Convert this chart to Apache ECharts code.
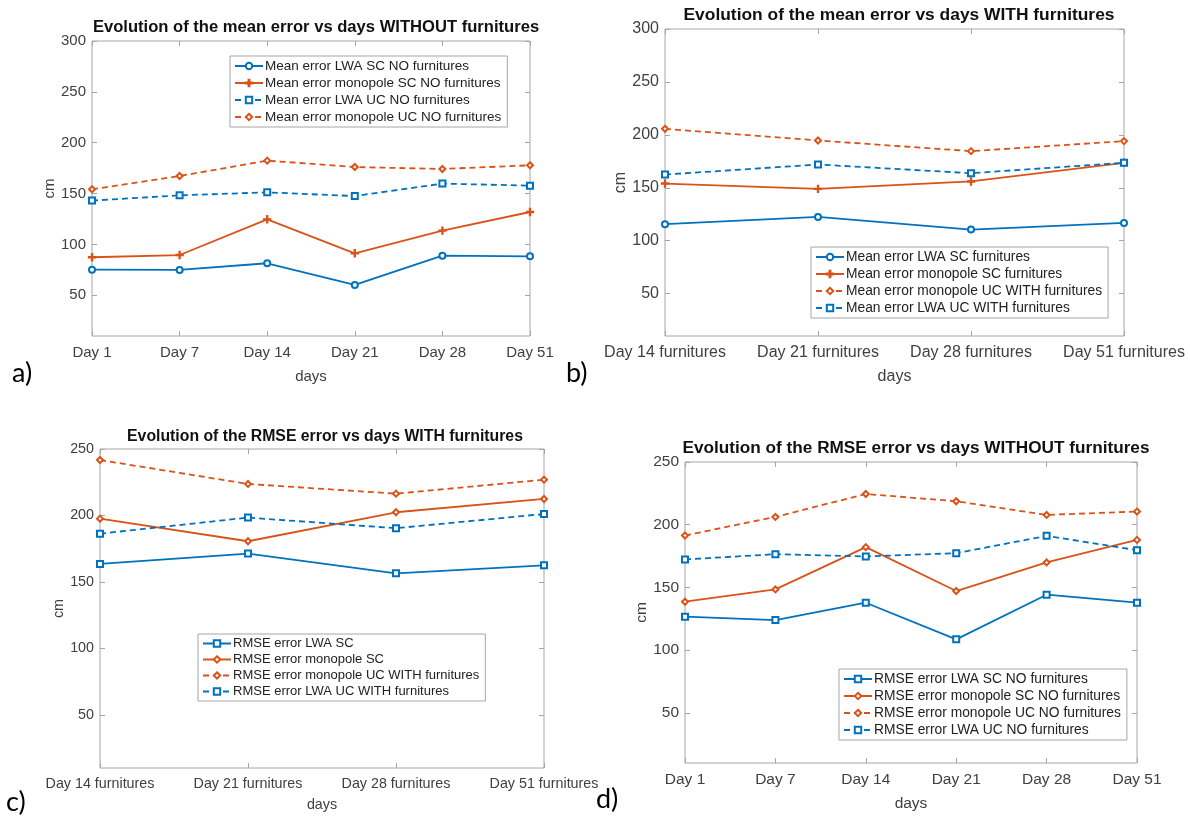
<!DOCTYPE html>
<html>
<head>
<meta charset="utf-8">
<script src="https://cdn.jsdelivr.net/npm/echarts@6/dist/echarts.min.js"></script>
<style>html,body{margin:0;padding:0;background:#fff;}#main{width:1190px;height:816px;}</style>
</head>
<body>
<div id="main"></div>
<script>
// ---------- data ----------
const daysA = ['Day 1', 'Day 7', 'Day 14', 'Day 21', 'Day 28', 'Day 51'];
const daysB = ['Day 14 furnitures', 'Day 21 furnitures', 'Day 28 furnitures', 'Day 51 furnitures'];

// a) mean error WITHOUT furnitures
const aLwaSC = [75.2, 75.0, 81.5, 60.2, 89.0, 88.3];
const aMonoSC = [87.4, 89.6, 124.7, 91.3, 113.6, 131.9];
const aLwaUC = [143.1, 148.3, 151.2, 147.6, 159.8, 157.8];
const aMonoUC = [154.2, 167.3, 182.4, 176.1, 174.2, 177.8];

// b) mean error WITH furnitures
const bLwaSC = [115.6, 122.5, 110.5, 116.8];
const bMonoSC = [154.0, 149.0, 156.0, 173.6];
const bMonoUC = [205.7, 194.7, 184.6, 194.1];
const bLwaUC = [162.5, 172.0, 163.8, 173.6];

// c) RMSE WITH furnitures
const cLwaSC = [163.5, 171.3, 156.5, 162.5];
const cMonoSC = [197.6, 180.6, 202.4, 212.4];
const cMonoUC = [241.7, 223.7, 216.4, 226.9];
const cLwaUC = [186.3, 198.4, 190.4, 201.1];

// d) RMSE WITHOUT furnitures
const dLwaSC = [126.7, 124.0, 137.8, 108.6, 144.2, 137.8];
const dMonoSC = [138.6, 148.4, 182.1, 147.1, 169.9, 187.9];
const dMonoUC = [191.4, 206.2, 224.5, 218.7, 207.8, 210.5];
const dLwaUC = [172.3, 176.5, 174.7, 177.3, 191.1, 179.7];

const ticks300 = [50, 100, 150, 200, 250, 300];
const ticks250 = [50, 100, 150, 200, 250];

const titles = [
  'Evolution of the mean error vs days WITHOUT furnitures',
  'Evolution of the mean error vs days WITH furnitures',
  'Evolution of the RMSE error vs days WITH furnitures',
  'Evolution of the RMSE error vs days WITHOUT furnitures'
];
const panelLabels = ['a)', 'b)', 'c)', 'd)'];

// ---------- styling ----------
const BLUE = '#0072BD';
const ORANGE = '#D95319';
const FONT = 'Liberation Sans, Arial, sans-serif';
const AXC = '#a6a6a6';
const TXT = '#404040';
const PLUS = 'path://M4.3,0h1.4v4.3h4.3v1.4h-4.3v4.3h-1.4v-4.3h-4.3v-1.4h4.3z';

const grids = [
  {left: 92, top: 41, width: 438, height: 295},
  {left: 665, top: 29, width: 459, height: 307},
  {left: 100, top: 449, width: 444, height: 319},
  {left: 685, top: 462, width: 452, height: 301}
];
const cats = [daysA, daysB, daysB, daysA];
const ymax = [300, 300, 250, 250];
const yticks = [ticks300, ticks300, ticks250, ticks250];
const fs = [15, 16, 14.3, 15.5];

const option = {
  backgroundColor: '#fff',
  animation: false,
  title: [],
  legend: [],
  grid: [],
  xAxis: [],
  yAxis: [],
  series: [],
  graphic: []
};

const titlePos = [
  {x: 311, y: 14}, {x: 894, y: 2}, {x: 320, y: 424}, {x: 911, y: 435}
];
const titleFs = [16.6, 17.4, 15.8, 17.2];

grids.forEach((g, i) => {
  option.grid.push({left: g.left, top: g.top, width: g.width, height: g.height,
    show: true, borderColor: AXC, borderWidth: 1, backgroundColor: '#fff', containLabel: false});
  option.title.push({text: titles[i], left: titlePos[i].x, top: titlePos[i].y, textAlign: 'center',
    textStyle: {fontFamily: FONT, fontWeight: 'bold', fontSize: titleFs[i], color: '#111'}});
  // bottom x axis
  option.xAxis.push({type: 'category', gridIndex: i, data: cats[i], boundaryGap: false,
    position: 'bottom', name: 'days', nameLocation: 'middle', nameGap: i === 2 ? 30 : 33,
    nameTextStyle: {fontFamily: FONT, fontSize: fs[i], color: TXT},
    axisLine: {show: false}, axisTick: {show: true, inside: true, length: 5, lineStyle: {color: AXC}},
    axisLabel: {fontFamily: FONT, fontSize: fs[i], color: TXT, margin: 9, interval: 0},
    splitLine: {show: false}});
  // top x axis (box ticks)
  option.xAxis.push({type: 'category', gridIndex: i, data: cats[i], boundaryGap: false,
    position: 'top', axisLine: {show: false},
    axisTick: {show: true, inside: true, length: 5, lineStyle: {color: AXC}},
    axisLabel: {show: false}, splitLine: {show: false}});
  // left y axis
  option.yAxis.push({type: 'value', gridIndex: i, min: 10, max: ymax[i], position: 'left',
    name: 'cm', nameLocation: 'middle', nameGap: 34, nameRotate: 90,
    nameTextStyle: {fontFamily: FONT, fontSize: fs[i], color: TXT},
    axisLine: {show: false},
    axisTick: {show: true, inside: true, length: 5, customValues: yticks[i], lineStyle: {color: AXC}},
    axisLabel: {fontFamily: FONT, fontSize: fs[i], color: TXT, margin: 6, customValues: yticks[i]},
    splitLine: {show: false}});
  // right y axis
  option.yAxis.push({type: 'value', gridIndex: i, min: 10, max: ymax[i], position: 'right',
    axisLine: {show: false},
    axisTick: {show: true, inside: true, length: 5, customValues: yticks[i], lineStyle: {color: AXC}},
    axisLabel: {show: false, customValues: yticks[i]}, splitLine: {show: false}});
});

function line(name, panel, data, color, dashed, symbol) {
  return {
    type: 'line', name: name, xAxisIndex: panel * 2, yAxisIndex: panel * 2, data: data,
    symbol: symbol, symbolSize: symbol === PLUS ? 7 : 6, showSymbol: true,
    lineStyle: {color: color, width: 1.8, type: dashed ? [6, 4] : 'solid'},
    itemStyle: {color: color, borderColor: color, borderWidth: 1.4},
    emphasis: {disabled: true}, z: 3
  };
}

const panels = [
  [
    ['Mean error LWA SC NO furnitures', aLwaSC, BLUE, false, 'emptyCircle'],
    ['Mean error monopole SC NO furnitures', aMonoSC, ORANGE, false, PLUS],
    ['Mean error LWA UC NO furnitures', aLwaUC, BLUE, true, 'emptyRect'],
    ['Mean error monopole UC NO furnitures', aMonoUC, ORANGE, true, 'emptyDiamond']
  ],
  [
    ['Mean error LWA SC furnitures', bLwaSC, BLUE, false, 'emptyCircle'],
    ['Mean error monopole SC furnitures', bMonoSC, ORANGE, false, PLUS],
    ['Mean error monopole UC WITH furnitures', bMonoUC, ORANGE, true, 'emptyDiamond'],
    ['Mean error LWA UC WITH furnitures', bLwaUC, BLUE, true, 'emptyRect']
  ],
  [
    ['RMSE error LWA SC', cLwaSC, BLUE, false, 'emptyRect'],
    ['RMSE error monopole SC', cMonoSC, ORANGE, false, 'emptyDiamond'],
    ['RMSE error monopole UC WITH furnitures', cMonoUC, ORANGE, true, 'emptyDiamond'],
    ['RMSE error LWA UC WITH furnitures', cLwaUC, BLUE, true, 'emptyRect']
  ],
  [
    ['RMSE error LWA SC NO furnitures', dLwaSC, BLUE, false, 'emptyRect'],
    ['RMSE error monopole SC NO furnitures', dMonoSC, ORANGE, false, 'emptyDiamond'],
    ['RMSE error monopole UC NO furnitures', dMonoUC, ORANGE, true, 'emptyDiamond'],
    ['RMSE error LWA UC NO furnitures', dLwaUC, BLUE, true, 'emptyRect']
  ]
];

const legendPos = [
  {left: 230, top: 56, fs: 13.5},
  {left: 811, top: 247, fs: 13.8},
  {left: 198, top: 634, fs: 13},
  {left: 839, top: 669, fs: 13.8}
];

panels.forEach((p, i) => {
  p.forEach(s => option.series.push(line(s[0], i, s[1], s[2], s[3], s[4])));
  const lp = legendPos[i];
  option.legend.push({
    data: p.map(s => s[0]), orient: 'vertical', left: lp.left, top: lp.top,
    backgroundColor: '#fff', borderColor: AXC, borderWidth: 1, padding: [3, 6, 3, 4],
    itemGap: 3, itemWidth: 28, itemHeight: 8, selectedMode: false,
    textStyle: {fontFamily: FONT, fontSize: lp.fs, color: '#222', padding: [0, 0, 0, -3]}
  });
});

const labelPos = [{x: 12, y: 360}, {x: 566, y: 360}, {x: 6, y: 789}, {x: 596, y: 786}];
labelPos.forEach((lp, i) => {
  option.graphic.push({type: 'text', left: lp.x, top: lp.y,
    style: {text: panelLabels[i], fontFamily: 'Lato, Carlito, sans-serif', fontSize: 27, fill: '#000'}});
});

const chart = echarts.init(document.getElementById('main'), null, {renderer: 'canvas'});
chart.setOption(option);
</script>
</body>
</html>
